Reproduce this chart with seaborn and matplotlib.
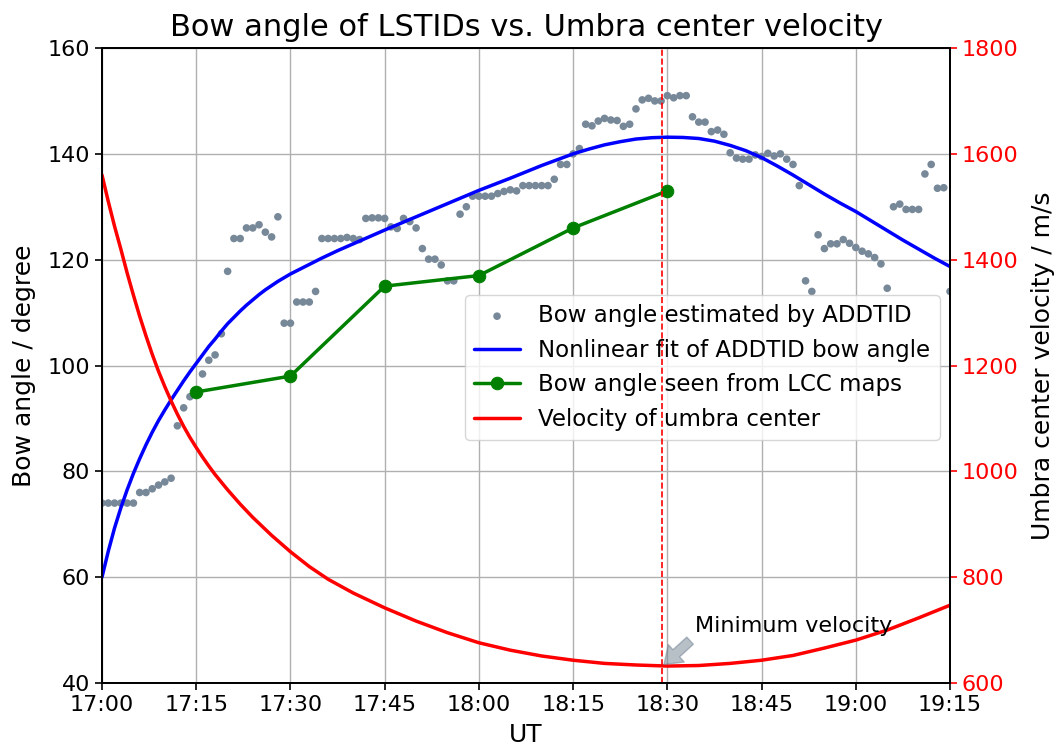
import numpy as np
import pandas as pd
import matplotlib
matplotlib.use("Agg")
import matplotlib.pyplot as plt
import seaborn as sns

# ---------------- data ----------------
# minutes after 17:00 UT
addtid_min = list(range(0, 136))
addtid_angle = [
    74, 74, 74, 74, 74, 74, 76, 76, 76.7, 77.4,
    78, 78.7, 88.6, 92, 94.1, 95.2, 98.4, 101, 102, 106,
    117.8, 124, 124, 126, 126, 126.6, 125.2, 124.3, 128.1, 108,
    108, 112, 112, 112, 114, 124, 124, 124, 124, 124.2,
    124, 123.8, 127.8, 127.9, 127.9, 127.8, 126.2, 125.9, 127.8, 127.2,
    126, 122.1, 120.1, 120.1, 119, 116, 116, 128.6, 130, 132,
    132, 132, 132, 132.5, 132.9, 133.2, 133, 134, 134, 134,
    134, 134, 135.2, 138, 138, 140, 141, 145.6, 145.3, 146.2,
    146.7, 146.4, 146.3, 145.2, 145.6, 148.5, 150.2, 150.5, 150, 150,
    151, 150.6, 151, 151, 147, 146, 146, 144.2, 144.5, 143.7,
    140.2, 139.2, 139, 139, 139.8, 139.5, 140.1, 139.6, 140, 139,
    138, 134, 116, 114, 124.7, 122.1, 123, 123, 123.8, 123.1,
    122.3, 121.6, 121.1, 120.4, 119.2, 114.6, 130, 130.5, 129.5, 129.5,
    129.5, 136.2, 138, 133.5, 133.6, 114,
]

fit_min = [0, 1, 2, 3, 4, 5, 6, 7, 8, 9, 10, 11, 12, 13, 14, 15, 16, 17, 18, 19,
           20, 21, 22, 23, 24, 25, 26, 27, 28, 29, 30, 32.5, 35, 37.5, 40, 42.5, 45,
           50, 55, 60, 65, 70, 75, 77.5, 80, 82.5, 85, 87.5, 90, 92.5, 95, 97.5, 100,
           102.5, 105, 107.5, 110, 112.5, 115, 117.5, 120, 122.5, 125, 127.5, 130,
           132.5, 135]
fit_angle = [60, 64.9, 69.3, 73.1, 76.5, 79.6, 82.4, 85.0, 87.4, 89.6, 91.6, 93.5,
             95.3, 97.1, 98.8, 100.4, 102.0, 103.6, 105.0, 106.5, 107.9, 109.1, 110.3,
             111.4, 112.4, 113.4, 114.3, 115.1, 115.9, 116.6, 117.3, 118.8, 120.3,
             121.7, 123.0, 124.3, 125.6, 128.1, 130.6, 133.1, 135.4, 137.8, 140.0,
             140.9, 141.7, 142.3, 142.8, 143.05, 143.15, 143.1, 142.9, 142.4, 141.6,
             140.6, 139.3, 137.7, 136.0, 134.2, 132.4, 130.7, 129.1, 127.3, 125.5,
             123.7, 122.0, 120.3, 118.7]

lcc_min = [15, 30, 45, 60, 75, 90]
lcc_angle = [95, 98, 115, 117, 126, 133]

vel_min = [0, 1, 2, 3, 4, 5, 6, 7, 8, 9, 10, 11, 12, 13, 14, 15, 16, 17, 18, 20, 22,
           24, 27, 30, 33, 36, 40, 45, 50, 55, 60, 65, 70, 75, 80, 85, 90, 95, 100,
           105, 110, 115, 120, 125, 130, 135]
vel_ms = [1560, 1510, 1463, 1420, 1375, 1333, 1293, 1256, 1221, 1189, 1160, 1133,
          1108, 1085, 1064, 1045, 1027, 1010, 994, 965, 938, 913, 879, 848, 820, 796,
          770, 742, 717, 695, 676, 662, 651, 643, 637, 634, 632, 633, 637, 643, 652,
          666, 681, 700, 723, 747]

min_vel_time = 89.2
min_vel_value = 632

xtick_pos = [0, 15, 30, 45, 60, 75, 90, 105, 120, 135]
xtick_labels = ["17:00", "17:15", "17:30", "17:45", "18:00", "18:15",
                "18:30", "18:45", "19:00", "19:15"]
left_ticks = [40, 60, 80, 100, 120, 140, 160]
right_ticks = [600, 800, 1000, 1200, 1400, 1600, 1800]

# ---------------- style ----------------
sns.set_style("ticks")
plt.rcParams["font.family"] = ["DejaVu Sans"]
plt.rcParams["text.color"] = "black"
plt.rcParams["axes.labelcolor"] = "black"
plt.rcParams["xtick.color"] = "black"
plt.rcParams["ytick.color"] = "black"

fig = plt.figure(figsize=(10.57, 7.47), dpi=100)
ax1 = fig.add_subplot(111)
fig.subplots_adjust(left=0.0965, right=0.8988, top=0.9357, bottom=0.0857)

ax1.grid(True, color="#b0b0b0", linewidth=1.0)
ax1.set_axisbelow(True)

sns.scatterplot(x=addtid_min, y=addtid_angle, ax=ax1, color="#778899", s=30,
                edgecolor="none", label="Bow angle estimated by ADDTID", zorder=2)
sns.lineplot(x=fit_min, y=fit_angle, ax=ax1, color="blue", linewidth=2.5,
             label="Nonlinear fit of ADDTID bow angle", zorder=3)
sns.lineplot(x=lcc_min, y=lcc_angle, ax=ax1, color="green", linewidth=2.5,
             marker="o", markersize=9, markeredgecolor="green",
             label="Bow angle seen from LCC maps", zorder=4)

ax2 = ax1.twinx()
sns.lineplot(x=vel_min, y=vel_ms, ax=ax2, color="red", linewidth=2.5,
             label="Velocity of umbra center")
ax2.axvline(min_vel_time, color="red", linestyle="--", linewidth=1.2)

ax1.set_xlim(0, 135)
ax1.set_ylim(40, 160)
ax2.set_ylim(600, 1800)
ax1.set_xticks(xtick_pos)
ax1.set_xticklabels(xtick_labels)
ax1.set_yticks(left_ticks)
ax2.set_yticks(right_ticks)

ax1.tick_params(axis="both", labelsize=16, length=5, width=1.2, colors="black")
ax2.tick_params(axis="y", labelsize=16, length=5, width=1.2, colors="red")
for sp in ax1.spines.values():
    sp.set_color("black")
    sp.set_linewidth(1.3)
for sp in ax2.spines.values():
    sp.set_color("black")
    sp.set_linewidth(1.3)

ax1.set_xlabel("UT", fontsize=18, labelpad=6)
ax1.set_ylabel("Bow angle / degree", fontsize=18, labelpad=8)
ax2.set_ylabel("Umbra center velocity / m/s", fontsize=18, labelpad=9)
ax1.set_title("Bow angle of LSTIDs vs. Umbra center velocity", fontsize=22, pad=9)

ax2.annotate("Minimum velocity", xy=(min_vel_time, min_vel_value),
             xytext=(94.4, 696), fontsize=16,
             arrowprops=dict(facecolor="slategray", edgecolor="slategray", alpha=0.5,
                             width=7, headwidth=17, headlength=12, shrink=0.05))

h1, l1 = ax1.get_legend_handles_labels()
h2, l2 = ax2.get_legend_handles_labels()
if ax2.get_legend() is not None:
    ax2.get_legend().remove()
ax1.legend(h1 + h2, l1 + l2, loc="upper left", bbox_to_anchor=(0.428, 0.611),
           borderaxespad=0, fontsize=16.5, frameon=True, framealpha=0.8,
           edgecolor="#cccccc", fancybox=True)

fig.savefig("out.png", dpi=100)
